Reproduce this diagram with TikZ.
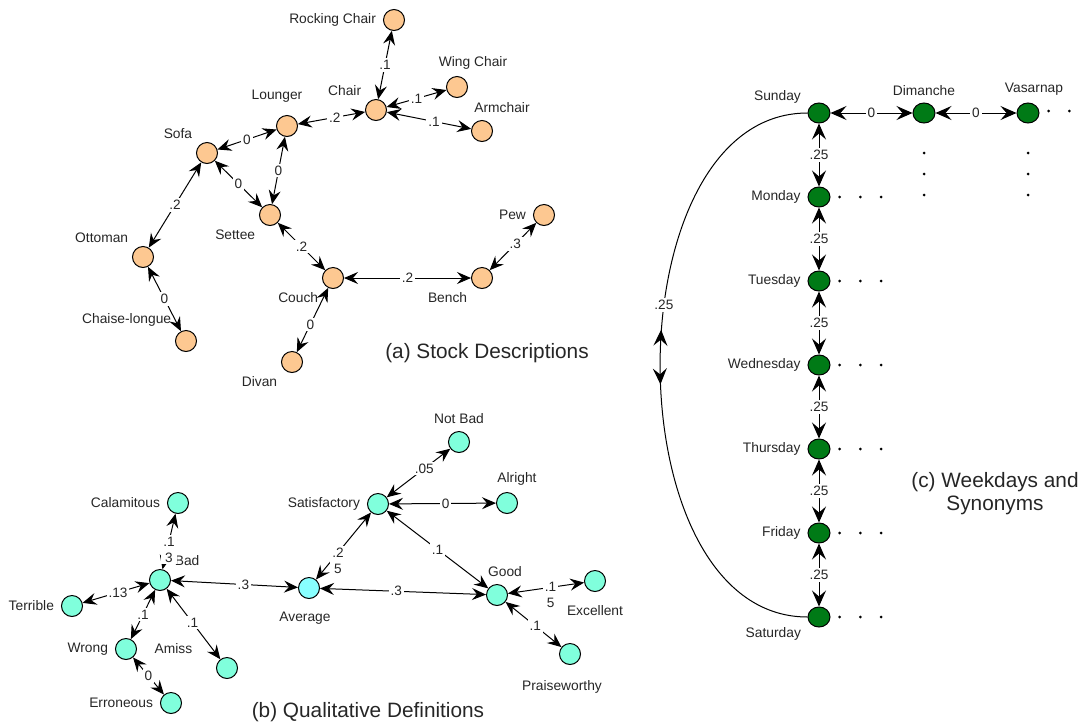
\documentclass[tikz,border=0pt]{standalone}
\usepackage{fontspec}
\setmainfont{Liberation Sans}
\usetikzlibrary{arrows.meta,shapes.geometric,decorations.markings}
\tikzset{>={Stealth[length=7pt,width=6pt,inset=2.5pt]}}
\definecolor{peach}{RGB}{253,200,145}
\definecolor{aqua}{RGB}{128,255,220}
\definecolor{skyaqua}{RGB}{136,255,255}
\definecolor{dkgreen}{RGB}{0,122,22}
\tikzset{
  word/.style={circle,draw,line width=0.5pt,minimum size=10.5pt,inner sep=0pt,label distance=1.5pt},
  stock/.style={word,fill=peach},
  quality/.style={word,fill=aqua},
  daynode/.style={word,ellipse,minimum width=11pt,minimum height=10pt,fill=dkgreen},
  wt/.style={fill=white,inner sep=1pt,text=black!85,font=\fontsize{6.8}{8}\selectfont},
  link/.style={<->,line width=0.5pt},
  daylink/.style={link,>={Stealth[length=8pt,width=7pt,inset=3pt]}},
  caption/.style={text=black!85,font=\fontsize{10.4}{11.5}\selectfont},
  every label/.style={text=black!85,font=\fontsize{6.9}{8}\selectfont}
}

\begin{document}
\begin{tikzpicture}[x=0.5pt,y=-0.5pt]
  \useasboundingbox (0,0) rectangle (1087,724);
  % (a) stock descriptions
  \node[stock,label=left:Rocking Chair] (rocking) at (394,20) {};
  \node[stock,label=above left:Chair] (chair) at (376,110) {};
  \node[stock,label={[xshift=8pt]above:Wing Chair}] (wing) at (457,87) {};
  \node[stock,label={[xshift=10pt]above:Armchair}] (armchair) at (482,131) {};
  \node[stock,label={[xshift=-5pt,label distance=3pt]above:Lounger}] (lounger) at (287,126) {};
  \node[stock,label=above left:Sofa] (sofa) at (207,153) {};
  \node[stock,label=below left:Settee] (settee) at (270,215) {};
  \node[stock,label=above left:Ottoman] (ottoman) at (143,257) {};
  \node[stock,label=above left:Chaise-longue] (chaise) at (186,341) {};
  \node[stock,label=below left:Couch] (couch) at (333,278) {};
  \node[stock,label=below left:Bench] (bench) at (482,278) {};
  \node[stock,label=left:Pew] (pew) at (544,215) {};
  \node[stock,label=below left:Divan] (divan) at (292,362) {};
  \draw[link] (rocking) -- node[wt] {.1} (chair);
  \draw[link] (chair) -- node[wt] {.1} (wing);
  \draw[link] (chair) -- node[wt,pos=.56] {.1} (armchair);
  \draw[link] (lounger) -- node[wt,pos=.55] {.2} (chair);
  \draw[link] (sofa) -- node[wt] {0} (lounger);
  \draw[link] (lounger) -- node[wt] {0} (settee);
  \draw[link] (sofa) -- node[wt] {0} (settee);
  \draw[link] (sofa) -- node[wt] {.2} (ottoman);
  \draw[link] (ottoman) -- node[wt] {0} (chaise);
  \draw[link] (settee) -- node[wt] {.2} (couch);
  \draw[link] (couch) -- node[wt] {.2} (bench);
  \draw[link] (bench) -- node[wt,pos=.55] {.3} (pew);
  \draw[link] (couch) -- node[wt,pos=.57] {0} (divan);
  \node[caption] (capa) at (487,353) {(a) Stock Descriptions};

  % (b) qualitative definitions
  \node[quality,label=above:Not Bad] (notbad) at (459,442) {};
  \node[quality,label={[xshift=5pt]above:Alright}] (alright) at (507,503) {};
  \node[quality,label=left:Satisfactory] (satisf) at (378,504) {};
  \node[quality,label=left:Calamitous] (calam) at (178,503) {};
  \node[quality,label=above right:Bad] (bad) at (160,580) {};
  \node[quality,label=left:Terrible] (terrible) at (72,606) {};
  \node[quality,fill=skyaqua,label={[label distance=3pt,xshift=-2pt]below:Average}] (average) at (309,588) {};
  \node[quality,label={[xshift=4pt]above:Good}] (good) at (497,595) {};
  \node[quality,label={[label distance=3pt]below:Excellent}] (excellent) at (595,581) {};
  \node[quality,label={[label distance=4pt,xshift=-4pt]below:Praiseworthy}] (praise) at (570,654) {};
  \node[quality,label=left:Wrong] (wrong) at (126,649) {};
  \node[quality,label={[xshift=-10pt]above left:Amiss}] (amiss) at (227,668) {};
  \node[quality,label=left:Erroneous] (erroneous) at (171,703) {};
  \draw[link] (satisf) -- node[wt,pos=.59] {.05} (notbad);
  \draw[link] (satisf) -- node[wt,pos=.53] {0} (alright);
  \draw[link] (satisf) -- node[wt,pos=.6,align=center,yshift=-4pt] {.2\\5} (average);
  \draw[link] (satisf) -- node[wt] {.1} (good);
  \draw[link] (bad) -- node[wt,pos=.57] {.3} (average);
  \draw[link] (average) -- node[wt,pos=.46] {.3} (good);
  \draw[link] (good) -- node[wt,pos=.56,align=center,yshift=-4pt] {.1\\5} (excellent);
  \draw[link] (good) -- node[wt,pos=.53] {.1} (praise);
  \draw[link] (calam) -- node[wt,align=center,yshift=-4pt] {.1\\3} (bad);
  \draw[link] (bad) -- node[wt,pos=.47] {.13} (terrible);
  \draw[link] (bad) -- node[wt] {.1} (wrong);
  \draw[link] (bad) -- node[wt,pos=.48] {.1} (amiss);
  \draw[link] (wrong) -- node[wt] {0} (erroneous);
  \node[caption] (capb) at (368,712) {(b) Qualitative Definitions};

  % (c) weekdays and synonyms
  \node[daynode,label=166:Sunday] (d0) at (819,113) {};
  \foreach \d [count=\i] in {Monday,Tuesday,Wednesday,Thursday,Friday}
    \node[daynode,label=left:\d] (d\i) at (819,{113+84*\i}) {};
  \node[daynode,label=196:Saturday] (d6) at (819,617) {};
  \node[daynode,label=above:Dimanche] (dimanche) at (924,113) {};
  \node[daynode,label={[xshift=3pt]above:Vasarnap}] (vasarnap) at (1028,113) {};
  \foreach \i [remember=\i as \j (initially 0)] in {1,...,6} {%
    \draw[daylink] (d\j) -- node[wt] {.25} (d\i);
    \foreach \k in {1,2,3}
      \fill (d\i) ++({20.7*\k},0) circle (0.75pt);
  };
  \draw[daylink] (d0) -- node[wt] {0} (dimanche);
  \draw[daylink] (dimanche) -- node[wt] {0} (vasarnap);
  \draw[line width=0.5pt,decoration={markings,
      mark=at position 0.47 with {\arrow{<}},
      mark=at position 0.53 with {\arrow{>}}},postaction={decorate},
      >={Stealth[length=8pt,width=7pt,inset=3pt]}]
    (d0.west) to[out=180,in=180,looseness=1] node[wt,pos=.42] {.25} (d6.west);
  % dots
  \foreach \k in {1,2}
    \fill (vasarnap) ++({20.7*\k},-2) circle (0.75pt);
  \foreach \k in {40,61,82} {%
    \fill (dimanche) ++(0,\k) circle (0.75pt);
    \fill (vasarnap) ++(0,\k) circle (0.75pt);
  };
  \node[caption,align=center] (capc) at (995,494) {(c) Weekdays and\\Synonyms};
\end{tikzpicture}
\end{document}
